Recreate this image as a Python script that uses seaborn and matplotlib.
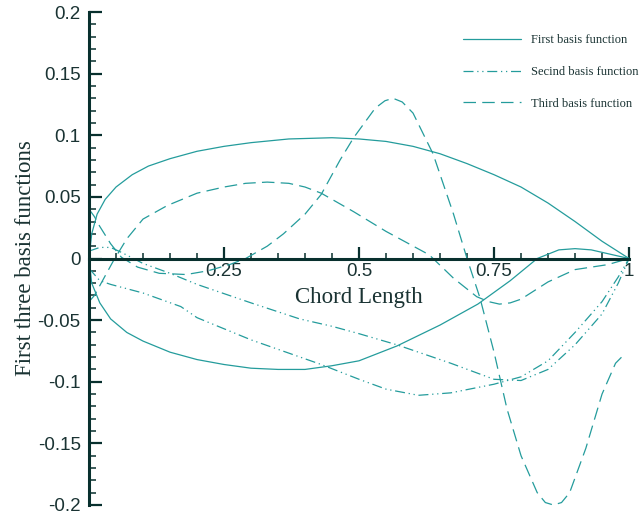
import pandas as pd
import matplotlib.pyplot as plt
import seaborn as sns

# 곡선 데이터
first_upper_x = [0, 0.005, 0.015, 0.03, 0.05, 0.08, 0.11, 0.15, 0.2, 0.25, 0.3, 0.37, 0.45, 0.5, 0.55, 0.6, 0.65, 0.7, 0.75, 0.8, 0.85, 0.9, 0.95, 1.0]
first_upper_y = [0, 0.02, 0.036, 0.048, 0.058, 0.068, 0.075, 0.081, 0.087, 0.091, 0.094, 0.097, 0.098, 0.097, 0.095, 0.091, 0.085, 0.077, 0.068, 0.058, 0.045, 0.03, 0.014, 0]
first_lower_x = [0, 0.005, 0.02, 0.04, 0.07, 0.1, 0.15, 0.2, 0.25, 0.3, 0.35, 0.4, 0.45, 0.5, 0.57, 0.65, 0.72, 0.78, 0.83, 0.87, 0.9, 0.93, 0.97, 1.0]
first_lower_y = [0, -0.02, -0.036, -0.049, -0.06, -0.067, -0.076, -0.082, -0.086, -0.089, -0.09, -0.09, -0.087, -0.083, -0.071, -0.054, -0.037, -0.018, 0, 0.007, 0.008, 0.007, 0.003, 0]

second_upper_x = [0, 0.02, 0.04, 0.06, 0.1, 0.15, 0.2, 0.3, 0.39, 0.45, 0.5, 0.57, 0.67, 0.75, 0.8, 0.85, 0.9, 0.95, 0.98, 1.0]
second_upper_y = [0.006, 0.009, 0.009, 0.005, -0.004, -0.012, -0.021, -0.036, -0.049, -0.055, -0.061, -0.07, -0.085, -0.098, -0.099, -0.09, -0.07, -0.045, -0.02, 0]
second_lower_x = [0, 0.02, 0.04, 0.1, 0.17, 0.2, 0.3, 0.43, 0.5, 0.55, 0.61, 0.67, 0.75, 0.8, 0.85, 0.9, 0.95, 0.98, 1.0]
second_lower_y = [-0.008, -0.018, -0.021, -0.028, -0.039, -0.048, -0.066, -0.086, -0.098, -0.106, -0.111, -0.109, -0.102, -0.096, -0.083, -0.06, -0.035, -0.015, 0]

third_a_x = [0, 0.01, 0.02, 0.04, 0.06, 0.09, 0.13, 0.18, 0.22, 0.26, 0.29, 0.33, 0.36, 0.4, 0.43, 0.465, 0.49, 0.53, 0.548, 0.563, 0.58, 0.6, 0.637, 0.675, 0.70, 0.724, 0.75, 0.774, 0.8, 0.83, 0.845, 0.86, 0.875, 0.89, 0.92, 0.95, 0.975, 0.993]
third_a_y = [0.04, 0.034, 0.026, 0.012, 0.001, -0.007, -0.012, -0.013, -0.01, -0.005, 0, 0.01, 0.02, 0.036, 0.052, 0.08, 0.098, 0.122, 0.128, 0.13, 0.127, 0.118, 0.085, 0.036, 0, -0.032, -0.076, -0.122, -0.16, -0.19, -0.198, -0.2, -0.198, -0.19, -0.154, -0.11, -0.085, -0.077]
third_b_x = [0, 0.01, 0.02, 0.045, 0.07, 0.1, 0.145, 0.2, 0.25, 0.29, 0.33, 0.37, 0.4, 0.43, 0.49, 0.55, 0.63, 0.675, 0.718, 0.74, 0.76, 0.78, 0.8, 0.85, 0.9, 0.96, 1.0]
third_b_y = [-0.035, -0.03, -0.022, -0.002, 0.016, 0.032, 0.043, 0.053, 0.058, 0.061, 0.062, 0.061, 0.058, 0.053, 0.038, 0.022, 0.003, -0.016, -0.031, -0.035, -0.037, -0.036, -0.033, -0.019, -0.009, -0.005, 0]

names = ['First basis function', 'Secind basis function', 'Third basis function']

xtick_values = [0.25, 0.5, 0.75, 1.0]
xtick_labels = ['0.25', '0.5', '0.75', '1']
ytick_values = [0.2, 0.15, 0.1, 0.05, 0, -0.05, -0.1, -0.15, -0.2]
ytick_labels = ['0.2', '0.15', '0.1', '0.05', '0', '-0.05', '-0.1', '-0.15', '-0.2']

# long-form 테이블
rows = []
curves = [
    (names[0], 'f1u', first_upper_x, first_upper_y),
    (names[0], 'f1l', first_lower_x, first_lower_y),
    (names[1], 'f2u', second_upper_x, second_upper_y),
    (names[1], 'f2l', second_lower_x, second_lower_y),
    (names[2], 'f3a', third_a_x, third_a_y),
    (names[2], 'f3b', third_b_x, third_b_y),
]
for name, cid, xs, ys in curves:
    for x, y in zip(xs, ys):
        rows.append({'x': x, 'y': y, 'function': name, 'curve': cid})
df = pd.DataFrame(rows)

sns.set_style('white')
plt.rcParams['font.family'] = ['Liberation Sans', 'DejaVu Sans']

line_color = '#249c9c'
axis_color = '#08302e'
text_color = '#1a3333'

fig = plt.figure(figsize=(6.39, 5.18), dpi=100)
ax = fig.add_axes([0.1393, 0.0251, 0.8451, 0.9517])

dash_map = {names[0]: '', names[1]: (8, 3, 1, 3, 1, 3), names[2]: (10, 5)}
sns.lineplot(data=df, x='x', y='y', style='function', units='curve', estimator=None,
             sort=False, dashes=dash_map, color=line_color, linewidth=0.9, ax=ax)
for ln in ax.get_lines():
    ln.set_clip_on(False)

ax.set_xlim(0, 1)
ax.set_ylim(-0.2, 0.2)

for s in ['top', 'right']:
    ax.spines[s].set_visible(False)
ax.spines['left'].set_position(('data', 0))
ax.spines['bottom'].set_position(('data', 0))
for s in ['left', 'bottom']:
    ax.spines[s].set_linewidth(2.2)
    ax.spines[s].set_color(axis_color)
    ax.spines[s].set_zorder(5)

ax.set_xticks(xtick_values)
ax.set_xticklabels(xtick_labels)
ax.set_xticks([i * 0.05 for i in range(1, 20)], minor=True)
ax.set_yticks(ytick_values)
ax.set_yticklabels(ytick_labels)
ax.set_yticks([-0.2 + i * 0.01 for i in range(41)], minor=True)

ax.tick_params(axis='both', which='both', bottom=True, left=True, top=False, right=False)
ax.tick_params(axis='both', which='major', direction='in', color=axis_color, width=1.6,
               labelsize=13.5, labelcolor=text_color)
ax.tick_params(axis='both', which='minor', direction='in', color=axis_color, width=1.1)
ax.tick_params(axis='y', which='major', length=9, pad=6)
ax.tick_params(axis='y', which='minor', length=5)
ax.tick_params(axis='x', which='major', length=9, pad=3)
ax.tick_params(axis='x', which='minor', length=4.5)
ax.grid(False)

ax.set_xlabel('Chord Length', family=['Liberation Serif'], fontsize=16.5, color=text_color)
ax.xaxis.set_label_coords(0.499, 0.4199)
ax.xaxis.label.set_va('center')
ax.set_ylabel('First three basis functions', family=['Liberation Serif'], fontsize=16.5, color=text_color)
ax.yaxis.set_label_coords(-0.1167, 0.5)
ax.yaxis.label.set_va('center')

handles, labels = ax.get_legend_handles_labels()
leg = ax.legend(handles, labels, loc='upper left', bbox_to_anchor=(0.6926, 0.955),
                frameon=False, prop={'family': 'Liberation Serif', 'size': 9},
                handlelength=4.6, handletextpad=0.8, labelspacing=1.58, borderpad=0,
                borderaxespad=0)
for t in leg.get_texts():
    t.set_color(text_color)

plt.savefig('out.png', dpi=100)
plt.close()
